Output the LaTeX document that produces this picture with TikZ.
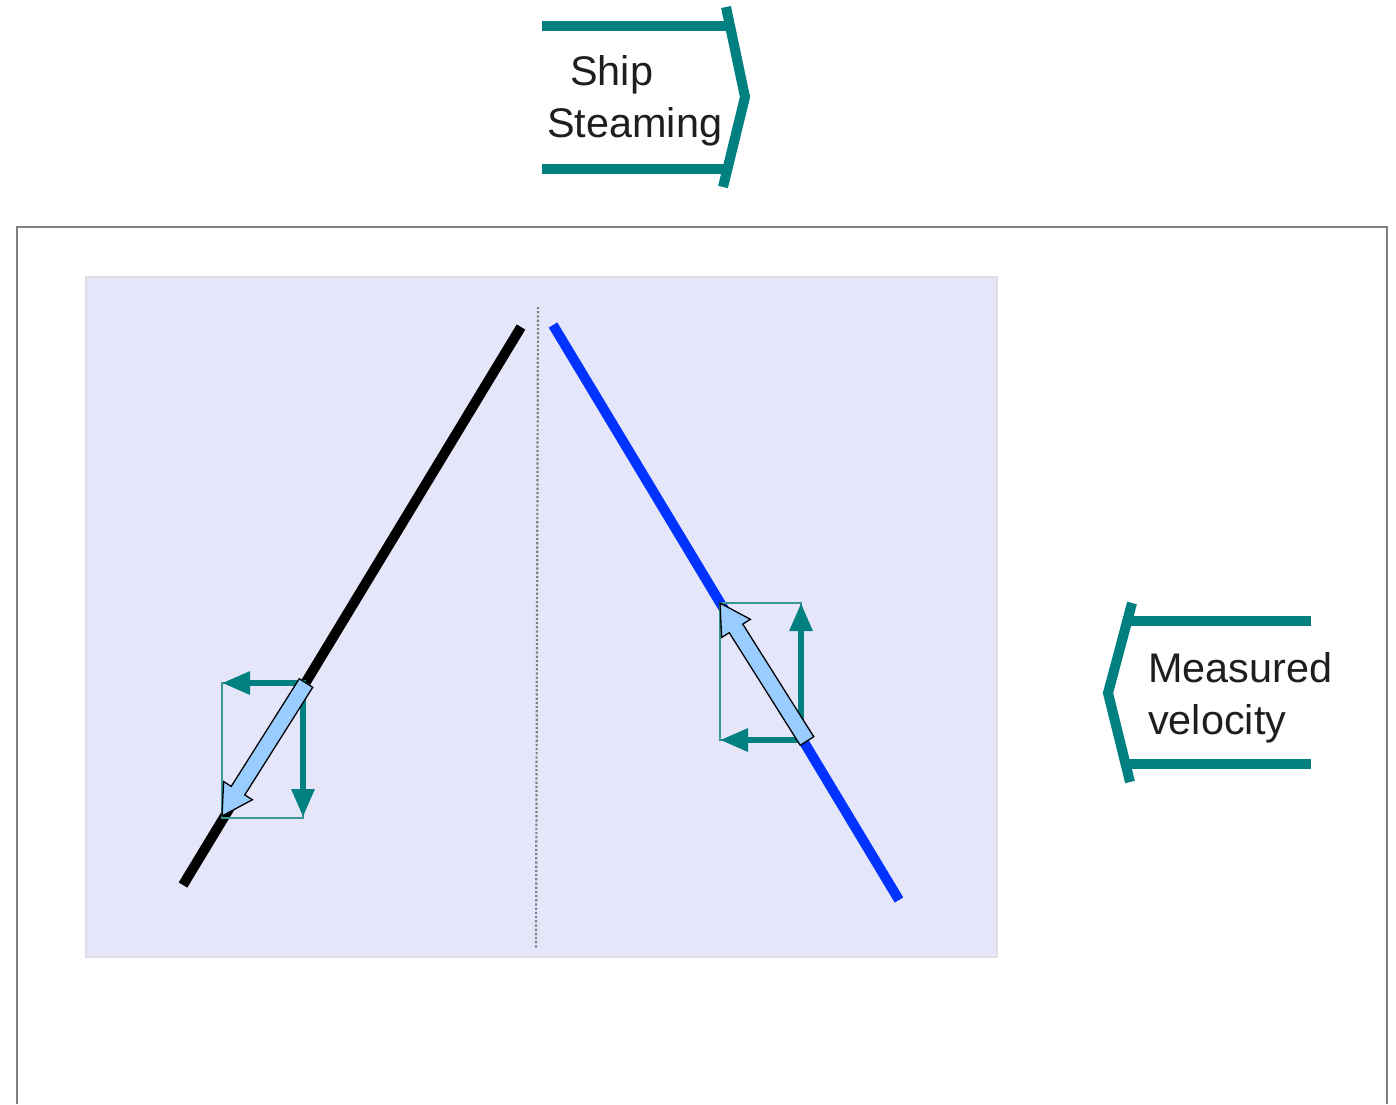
\documentclass[tikz,border=0pt]{standalone}
\usepackage{fontspec}
\setmainfont{Liberation Sans}
\usetikzlibrary{arrows.meta,calc}
\definecolor{tealc}{RGB}{0,128,128}
\definecolor{teallight}{RGB}{60,150,150}
\definecolor{panelc}{RGB}{230,230,250}
\definecolor{panelb}{RGB}{222,222,230}
\definecolor{bluel}{RGB}{0,51,255}
\definecolor{arrfill}{RGB}{153,204,255}
\definecolor{txt}{RGB}{30,30,30}
\tikzset{
  chev/.style={draw=tealc,line width=10pt,line join=miter},
  comp/.style={draw=tealc,line width=6pt,-{Triangle[length=28pt,width=22pt]}},
  box/.style={draw=teallight,line width=1.5pt},
  lbl/.style={font=\fontsize{41.4}{52}\selectfont,text=txt,inner sep=0pt,anchor=base west,align=left},
  fatarrow/.style={fill=arrfill,draw=black,line width=1.3pt,line join=miter},
}
\newcommand{\fatarrowpath}[2]{%
  \coordinate (H) at ($(#2)!30pt!(#1)$);
  \path[fatarrow] ($(#1)!8pt!90:(#2)$) -- ($(H)!8pt!90:(#2)$) -- ($(H)!17pt!90:(#2)$) -- (#2)
    -- ($(H)!17pt!-90:(#2)$) -- ($(H)!8pt!-90:(#2)$) -- ($(#1)!8pt!-90:(#2)$) -- cycle;}
\begin{document}
\begin{tikzpicture}[x=1pt,y=-1pt]
\useasboundingbox (0,0) rectangle (1396,1104);
% outer frame
\coordinate (fbl) at (17,1104);
\coordinate (ftl) at (17,227);
\coordinate (ftr) at (1387,227);
\coordinate (fbr) at (1387,1104);
\draw[draw=gray,line width=2.5pt] (fbl) -- (ftl) -- (ftr) -- (fbr);
% panel
\coordinate (p1) at (86,277);
\coordinate (p2) at (997,957);
\draw[fill=panelc,draw=panelb,line width=2pt] (p1) rectangle (p2);
% dotted centre line
\coordinate (d1) at (538,307);
\coordinate (d2) at (536,948);
\draw[gray,line width=2.2pt,dotted] (d1) -- (d2);
% black and blue lines
\coordinate (b1) at (183,885);
\coordinate (b2) at (521,327);
\draw[black,line width=10pt] (b1) -- (b2);
\coordinate (c1) at (553,325);
\coordinate (c2) at (899,900);
\draw[bluel,line width=10pt] (c1) -- (c2);
% left component box
\coordinate (l1) at (222,683);
\coordinate (l2) at (303,818);
\draw[box] (l1) rectangle (l2);
\coordinate (lo) at (306,683);
\coordinate (lh) at (222,683);
\coordinate (lo2) at (303,680);
\coordinate (lv) at (303,817);
\draw[comp] (lo) -- (lh);
\draw[comp] (lo2) -- (lv);
\coordinate (ls) at (306,683);
\coordinate (le) at (222,816);
\fatarrowpath{ls}{le}
% right component box
\coordinate (r1) at (720,603);
\coordinate (r2) at (801,740);
\draw[box] (r1) rectangle (r2);
\coordinate (ro) at (801,743);
\coordinate (rv) at (801,603);
\coordinate (ro2) at (804,740);
\coordinate (rh) at (720,740);
\draw[comp] (ro) -- (rv);
\draw[comp] (ro2) -- (rh);
\coordinate (rs) at (807,741);
\coordinate (re) at (720,603);
\fatarrowpath{rs}{re}
% Ship steaming chevron
\coordinate (s1) at (542,26);
\coordinate (s2) at (728,26);
\coordinate (s3) at (542,169);
\coordinate (s4) at (728,169);
\draw[chev] (s1) -- (s2);
\draw[chev] (s3) -- (s4);
\coordinate (sa) at (726,7);
\coordinate (sb) at (745,97);
\coordinate (sc) at (723,187);
\draw[chev] (sa) -- (sb) -- (sc);
\node[lbl] (ship) at (547,137) {\hspace*{23pt}Ship\\Steaming};
% Measured velocity chevron
\coordinate (m1) at (1311,621);
\coordinate (m2) at (1128,621);
\coordinate (m3) at (1311,764);
\coordinate (m4) at (1128,764);
\draw[chev] (m1) -- (m2);
\draw[chev] (m3) -- (m4);
\coordinate (ma) at (1132,603);
\coordinate (mb) at (1108,693);
\coordinate (mc) at (1130,782);
\draw[chev] (ma) -- (mb) -- (mc);
\node[lbl] (meas) at (1148,734) {Measured\\velocity};
\end{tikzpicture}
\end{document}
